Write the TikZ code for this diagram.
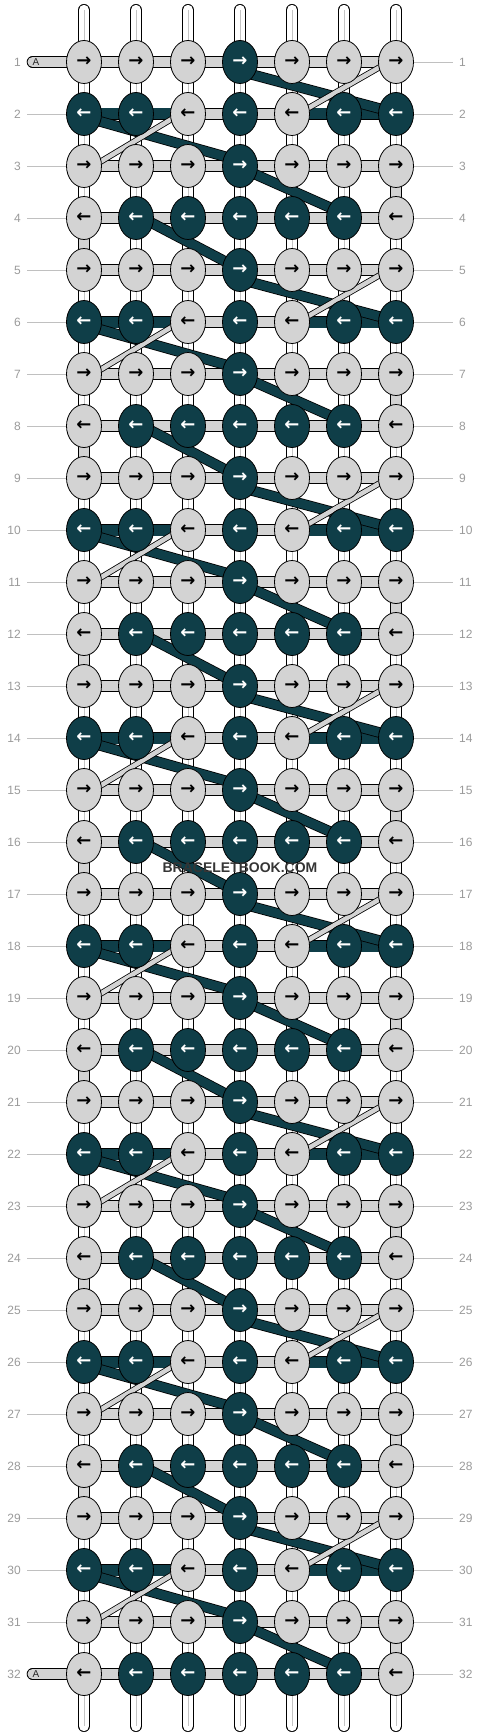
\documentclass[tikz,border=0pt]{standalone}
\usepackage{fontspec}
\setmainfont{Liberation Sans}
\newfontfamily\arrowfont{DejaVu Sans}
\usetikzlibrary{shapes.geometric}
\definecolor{dk}{HTML}{0F3E48}
\definecolor{lt}{HTML}{D3D3D3}
\definecolor{lblgray}{HTML}{9A9A9A}
\definecolor{lblline}{HTML}{C0C0C0}
\definecolor{innerg}{HTML}{C4C4C4}
\definecolor{wmark}{HTML}{353535}
\pgfdeclarelayer{strands}
\pgfdeclarelayer{bands}
\pgfsetlayers{strands,bands,main}
\tikzset{
  knotL/.style={ellipse, draw=black, line width=0.8pt, fill=lt, minimum width=35pt, minimum height=43pt, inner sep=0pt, text=black, font=\arrowfont\bfseries\fontsize{18}{18}\selectfont},
  knotD/.style={knotL, fill=dk, text=white},
  lbl/.style={inner sep=0pt, text=lblgray, font=\fontsize{12}{12}\selectfont},
  lblln/.style={draw=lblline, line width=0.9pt},
  hconnL/.style={draw=black, line width=0.8pt, double=lt, double distance=10pt},
  hconnD/.style={draw=black, line width=0.8pt, double=dk, double distance=11pt},
  vconnW/.style={draw=black, line width=0.8pt, double=white, double distance=10.4pt},
  vconnG/.style={draw=black, line width=0.8pt, double=lt, double distance=10.4pt},
  vline/.style={draw=innerg, line width=1pt},
  stick/.style={draw=black, line width=0.8pt, double=white, double distance=10.4pt, line cap=round},
  astrip/.style={draw=black, line width=0.8pt, double=lt, double distance=10pt, line cap=round},
  bandD/.style={draw=black, line width=0.8pt, double=dk, double distance=9pt, shorten <=-4pt, shorten >=-4pt},
  bandL/.style={draw=black, line width=0.8pt, double=lt, double distance=4.5pt, shorten <=-4pt, shorten >=-4pt},
}
\begin{document}
\begin{tikzpicture}[x=1pt,y=-1pt]
\path[use as bounding box] (0,0) rectangle (480,1736);
% knots
\foreach \r in {1,...,32}{
  \pgfmathtruncatemacro\m{mod(\r-1,4)}
  \pgfmathsetmacro\yy{62+(\r-1)*52}
  \foreach \c in {1,...,7}{
    \pgfmathsetmacro\xx{84+(\c-1)*52}
    \pgfmathtruncatemacro\dk{ifthenelse(\m==0||\m==2, \c==4, ifthenelse(\m==1, (\c!=3)&&(\c!=5), (\c>1)&&(\c<7)))}
    \ifodd\m \def\arr{←}\else\def\arr{→}\fi
    \ifnum\dk=1 \node[knotD] (k\c-\r) at (\xx,\yy) {\arr};
    \else \node[knotL] (k\c-\r) at (\xx,\yy) {\arr};\fi
  }
}
% row labels
\foreach \r in {1,...,32}{
  \pgfmathsetmacro\yy{62+(\r-1)*52}
  \node[lbl, anchor=east] (ll\r) at (21,\yy) {\r};
  \node[lbl, anchor=west] (rl\r) at (459,\yy) {\r};
  \coordinate (rc\r) at (453,\yy);
  \coordinate (lc\r) at (27,\yy);
  \begin{pgfonlayer}{strands}
    \draw[lblln] (k7-\r.east) -- (rc\r);
    \ifnum\r>1 \ifnum\r<32 \draw[lblln] (lc\r) -- (k1-\r.west); \fi\fi
  \end{pgfonlayer}
}
\begin{pgfonlayer}{strands}
% sticks
\foreach \c in {1,...,7}{
  \pgfmathsetmacro\xx{84+(\c-1)*52}
  \coordinate (t\c) at (\xx,10);
  \coordinate (b\c) at (\xx,1726);
  \draw[stick] (t\c) -- (k\c-1.center);
  \draw[vline] (t\c) -- (k\c-1.center);
  \draw[stick] (k\c-32.center) -- (b\c);
  \draw[vline] (k\c-32.center) -- (b\c);
}
% vertical connectors
\foreach \r [evaluate=\r as \n using int(\r+1)] in {1,...,31}{
  \pgfmathtruncatemacro\m{mod(\r-1,4)}
  \foreach \c in {1,...,7}{
    \pgfmathtruncatemacro\g{((\m==2)&&(\c==7))||((\m==3)&&(\c==1))}
    \ifnum\g=1 \draw[vconnG] (k\c-\r.center) -- (k\c-\n.center);
    \else \draw[vconnW] (k\c-\r.center) -- (k\c-\n.center);
      \draw[vline] (k\c-\r.center) -- (k\c-\n.center);\fi
  }
}
% horizontal connectors
\foreach \r in {1,...,32}{
  \pgfmathtruncatemacro\m{mod(\r-1,4)}
  \foreach \c [evaluate=\c as \n using int(\c+1)] in {1,...,6}{
    \pgfmathtruncatemacro\hd{(\m==1)&&(\c!=3)&&(\c!=4)}
    \ifnum\hd=1 \draw[hconnD] (k\c-\r.center) -- (k\n-\r.center);
    \else \draw[hconnL] (k\c-\r.center) -- (k\n-\r.center);\fi
  }
}
% A strips
\coordinate (a1) at (32.5,62);
\coordinate (a32) at (32.5,1674);
\draw[astrip] (a1) -- (k1-1.center);
\draw[astrip] (a32) -- (k1-32.center);
\end{pgfonlayer}
\node[inner sep=0pt, font=\fontsize{10}{10}\selectfont, text=black!85] (A1) at (36,62) {A};
\node[inner sep=0pt, font=\fontsize{10}{10}\selectfont, text=black!85] (A32) at (36,1674) {A};
% diagonal bands
\begin{pgfonlayer}{bands}
\foreach \k in {0,...,7}{
  \pgfmathtruncatemacro\ra{4*\k+1}
  \pgfmathtruncatemacro\rb{4*\k+2}
  \pgfmathtruncatemacro\rc{4*\k+3}
  \pgfmathtruncatemacro\rd{4*\k+4}
  \pgfmathtruncatemacro\re{4*\k+5}
  \draw[bandD] ([shift={(10,12)}]k4-\ra.center) -- ([shift={(-11,-4)}]k7-\rb.center);
  \draw[bandD] ([shift={(11,6)}]k1-\rb.center) -- ([shift={(-10,-8)}]k4-\rc.center);
  \draw[bandD] ([shift={(10,6)}]k4-\rc.center) -- ([shift={(-4,-6)}]k6-\rd.center);
  \ifnum\k<7 \draw[bandD] ([shift={(14,4)}]k2-\rd.center) -- ([shift={(-10,-6)}]k4-\re.center);\fi
  \draw[bandL] ([shift={(-16,5)}]k7-\ra.center) -- ([shift={(13,-4)}]k5-\rb.center);
  \draw[bandL] ([shift={(-13,3)}]k3-\rb.center) -- ([shift={(16,-4)}]k1-\rc.center);
}
\end{pgfonlayer}
\node[inner sep=0pt, text=wmark, font=\bfseries\fontsize{14}{14}\selectfont] (wm) at (240,868) {BRACELETBOOK.COM};
\end{tikzpicture}
\end{document}
